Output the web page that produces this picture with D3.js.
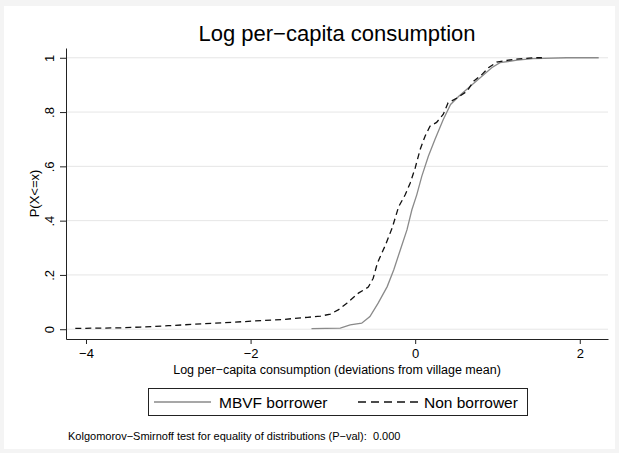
<!DOCTYPE html>
<html>
<head>
<meta charset="utf-8">
<script src="https://d3js.org/d3.v7.min.js"></script>
<style>
  html, body { margin: 0; padding: 0; background: #f4f4f4; }
  svg { display: block; }
  text { font-family: "Liberation Sans", Arial, Helvetica, sans-serif; fill: #000; }
</style>
</head>
<body>
<div id="chart"></div>
<script>
  // values
  var mbvfX = [-1.26, -0.91, -0.79, -0.65, -0.55, -0.45, -0.34, -0.26, -0.18, -0.10, -0.04, 0.02, 0.08, 0.16, 0.24, 0.34, 0.43, 0.53, 0.67, 0.79, 0.93, 1.03, 1.24, 1.43, 1.84, 2.23];
  var mbvfY = [0.002, 0.004, 0.016, 0.022, 0.047, 0.096, 0.157, 0.219, 0.293, 0.366, 0.44, 0.496, 0.563, 0.637, 0.699, 0.772, 0.828, 0.858, 0.895, 0.926, 0.963, 0.982, 0.991, 0.997, 1.0, 1.0];

  var nonX = [-4.13, -3.6, -3.34, -3.0, -2.7, -2.45, -2.2, -1.97, -1.6, -1.31, -1.15, -1.03, -0.93, -0.83, -0.69, -0.57, -0.51, -0.46, -0.36, -0.28, -0.20, -0.12, -0.06, 0.00, 0.06, 0.12, 0.18, 0.26, 0.34, 0.40, 0.51, 0.63, 0.71, 0.81, 0.89, 0.99, 1.19, 1.44, 1.54];
  var nonY = [0.003, 0.005, 0.008, 0.013, 0.018, 0.022, 0.026, 0.030, 0.036, 0.044, 0.048, 0.056, 0.072, 0.096, 0.133, 0.155, 0.188, 0.243, 0.311, 0.373, 0.452, 0.496, 0.539, 0.594, 0.662, 0.711, 0.748, 0.762, 0.791, 0.834, 0.852, 0.877, 0.914, 0.938, 0.963, 0.984, 0.994, 1.0, 1.0];

  var xTicks = [-4, -2, 0, 2];
  var yTicks = [0, 0.2, 0.4, 0.6, 0.8, 1];
  var yTickLabels = ["0", ".2", ".4", ".6", ".8", "1"];
  var seriesNames = ["MBVF borrower", "Non borrower"];

  var W = 619, H = 453;
  var margin = { top: 48, right: 11, bottom: 114, left: 66 };
  var width = W - margin.left - margin.right;
  var height = H - margin.top - margin.bottom;

  var svg = d3.select("#chart").append("svg")
    .attr("width", W)
    .attr("height", H);

  // white graph region on the grey page
  svg.append("rect")
    .attr("x", 4).attr("y", 6)
    .attr("width", 611).attr("height", 443)
    .attr("fill", "#fff");

  var g = svg.append("g")
    .attr("transform", "translate(" + margin.left + "," + margin.top + ")");

  var xScale = d3.scaleLinear().domain([-4.243, 2.343]).range([0, width]);
  var yScale = d3.scaleLinear().domain([-0.036, 1.036]).range([height, 0]);

  // grid lines
  g.selectAll(".grid")
    .data(yTicks)
    .enter().append("line")
    .attr("x1", 0).attr("x2", width)
    .attr("y1", function(d) { return yScale(d); })
    .attr("y2", function(d) { return yScale(d); })
    .attr("stroke", "#e6e6e6")
    .attr("stroke-width", 1);

  var line = d3.line()
    .x(function(d) { return xScale(d[0]); })
    .y(function(d) { return yScale(d[1]); });

  // MBVF borrower
  g.append("path")
    .datum(d3.zip(mbvfX, mbvfY))
    .attr("fill", "none")
    .attr("stroke", "#8a8a8a")
    .attr("stroke-width", 1.3)
    .attr("d", line);

  // Non borrower
  g.append("path")
    .datum(d3.zip(nonX, nonY))
    .attr("fill", "none")
    .attr("stroke", "#111")
    .attr("stroke-width", 1.3)
    .attr("stroke-dasharray", "6,4")
    .attr("d", line);

  // x axis
  var xAxis = g.append("g")
    .attr("transform", "translate(0," + height + ")")
    .call(d3.axisBottom(xScale).tickValues(xTicks).tickFormat(d3.format("d"))
      .tickSize(5).tickSizeOuter(0).tickPadding(5));
  xAxis.selectAll("text").style("font-size", "13px");

  // y axis
  var yAxis = g.append("g")
    .call(d3.axisLeft(yScale).tickValues(yTicks)
      .tickFormat(function(d, i) { return yTickLabels[i]; })
      .tickSize(6).tickSizeOuter(0));
  yAxis.selectAll("text")
    .style("font-size", "13px")
    .attr("text-anchor", "middle")
    .attr("x", 0).attr("dy", 0)
    .attr("transform", "translate(-15,0) rotate(-90)")
    .attr("dominant-baseline", "middle");

  g.selectAll(".domain, .tick line").attr("stroke", "#222");

  // axis titles
  g.append("text")
    .attr("x", width / 2)
    .attr("y", height + 35)
    .style("text-anchor", "middle")
    .style("font-size", "12.5px")
    .text("Log per\u2212capita consumption (deviations from village mean)");

  g.append("text")
    .attr("transform", "rotate(-90)")
    .attr("x", -height / 2)
    .attr("y", -27)
    .style("text-anchor", "middle")
    .style("font-size", "13px")
    .text("P(X<=x)");

  // title
  svg.append("text")
    .attr("x", margin.left + width / 2)
    .attr("y", 41)
    .style("text-anchor", "middle")
    .style("font-size", "22px")
    .text("Log per\u2212capita consumption");

  // legend
  var legend = svg.append("g");
  legend.append("rect")
    .attr("x", 148.5).attr("y", 388.5)
    .attr("width", 379).attr("height", 27)
    .attr("fill", "#fff")
    .attr("stroke", "#222");

  legend.append("line")
    .attr("x1", 154).attr("x2", 211).attr("y1", 402).attr("y2", 402)
    .attr("stroke", "#8a8a8a").attr("stroke-width", 1.3);
  legend.append("text")
    .attr("x", 219).attr("y", 407.5)
    .style("font-size", "15.5px")
    .text(seriesNames[0]);

  legend.append("line")
    .attr("x1", 358).attr("x2", 418).attr("y1", 402).attr("y2", 402)
    .attr("stroke", "#111").attr("stroke-width", 1.3)
    .attr("stroke-dasharray", "8,5");
  legend.append("text")
    .attr("x", 424).attr("y", 407.5)
    .style("font-size", "15.5px")
    .text(seriesNames[1]);

  // note
  svg.append("text")
    .attr("x", 68)
    .attr("y", 440)
    .style("font-size", "11px")
    .style("white-space", "pre")
    .text("Kolgomorov\u2212Smirnoff test for equality of distributions (P\u2212val):  0.000");
</script>
</body>
</html>
